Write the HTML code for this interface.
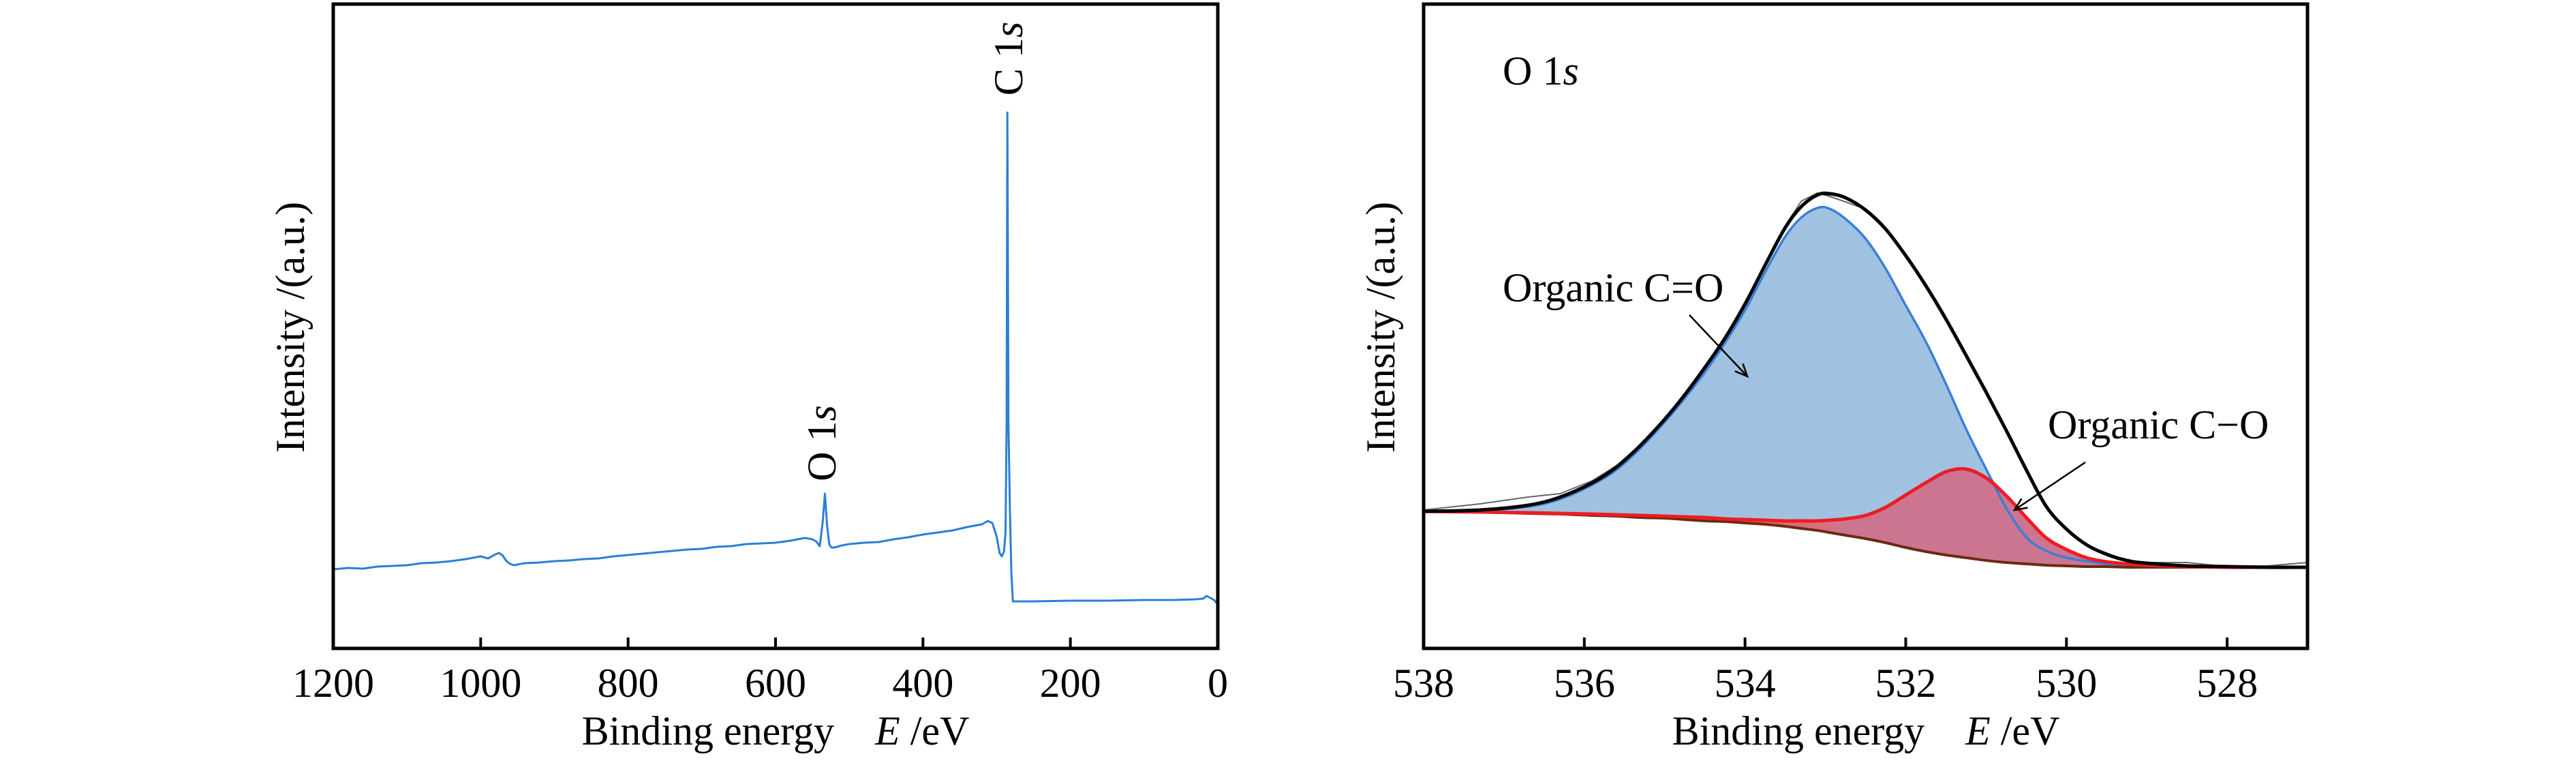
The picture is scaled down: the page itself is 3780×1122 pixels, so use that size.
<!DOCTYPE html>
<html><head><meta charset="utf-8"><style>
html,body{margin:0;padding:0;background:#fff;}
svg{display:block;}
text,tspan{font-family:"Liberation Serif","Times New Roman","DejaVu Serif",serif !important;}
</style></head><body>
<svg id="chart" width="3780" height="1122" viewBox="0 0 3780 1122" xmlns="http://www.w3.org/2000/svg">
<rect x="0" y="0" width="3780" height="1122" fill="#fff"/>
<defs>
<linearGradient id="redgrad" x1="2089" y1="0" x2="3386" y2="0" gradientUnits="userSpaceOnUse">
<stop offset="0" stop-color="#ee5a3c"/><stop offset="0.38" stop-color="#e86a58"/><stop offset="0.48" stop-color="#cc7590"/><stop offset="1" stop-color="#cc7590"/>
</linearGradient>
<marker id="arrowhead" markerWidth="24" markerHeight="24" refX="20" refY="12" orient="auto" markerUnits="userSpaceOnUse" viewBox="0 0 24 24"><path d="M2,4 L20,12 L2,20" fill="none" stroke="#000" stroke-width="2.5"/></marker>
</defs>
<g id="left"></g>
<g id="right"></g>
<g fill="#000">
<text x="1138" y="1092" font-size="60" text-anchor="middle" xml:space="preserve">Binding energy    <tspan font-style="italic">E</tspan> /eV</text>
<text transform="translate(446,480) rotate(-90)" font-size="60" text-anchor="middle">Intensity /(a.u.)</text>
<text transform="translate(1226,650) rotate(-90)" font-size="60" text-anchor="middle">O 1<tspan font-style="italic">s</tspan></text>
<text transform="translate(1500,86) rotate(-90)" font-size="60" text-anchor="middle">C 1<tspan font-style="italic">s</tspan></text>
<text x="2738" y="1092" font-size="60" text-anchor="middle" xml:space="preserve">Binding energy    <tspan font-style="italic">E</tspan> /eV</text>
<text transform="translate(2046,480) rotate(-90)" font-size="60" text-anchor="middle">Intensity /(a.u.)</text>
<text x="2205" y="124" font-size="60">O 1<tspan font-style="italic">s</tspan></text>
<text x="2205" y="442" font-size="60">Organic C=O</text>
<text x="3005" y="643" font-size="60">Organic C−O</text>
<line x1="2479" y1="462" x2="2564" y2="552" stroke="#000" stroke-width="2.5" marker-end="url(#arrowhead)"/>
<line x1="3060" y1="678" x2="2956" y2="748" stroke="#000" stroke-width="2.5" marker-end="url(#arrowhead)"/>
</g>
</svg>
<script>
// ---------- Left: survey spectrum data ----------
const surveyEnergy = [1200,1180,1160,1140,1120,1100,1080,1060,1040,1020,1010,1000,990,980,975,970,965,960,955,940,920,900,880,860,840,820,800,780,760,740,720,700,680,660,640,620,600,580,560,550,545,540,536,533,530,527,524,520,510,500,480,460,440,420,400,380,360,340,320,312,306,300,296,293,290,288,286.5,285.5,284.8,284,282,280,278,270,250,200,150,100,60,30,20,15,10,5,0];
const surveyIntensity = [116,118,117,120,121,122,125,126,128,131,133,135,132,138,140,136,128,124,122,125,126,128,129,131,132,135,137,139,141,143,145,146,149,150,153,154,155,158,162,160,157,150,185,227,180,152,148,148,151,153,155,156,160,163,167,170,173,178,182,187,184,164,140,135,142,170,330,786,600,330,200,110,69,69,69,70,70,71,71,72,73,77,74,71,64];
const surveyTicks = [1200,1000,800,600,400,200,0];
// ---------- Right: O 1s data ----------
const o1sEnergy = [538,537.3,536.7,536.3,535.9,535.6,535.3,535.0,534.75,534.5,534.25,534.0,533.75,533.5,533.3,533.1,532.95,532.75,532.5,532.25,532.0,531.75,531.5,531.25,531.0,530.75,530.5,530.25,530.0,529.75,529.5,529.25,529.0,528.5,528.0,527.5,527];
const envelope = [201,203,210,222,243,266,298,336,372,412,455,505,562,617,648,665,667,661,643,615,576,532,483,430,376,320,262,208,175,152,138,129,125,121,120,119,119];
const component1 = [201,202,208,219,240,262,294,332,367,405,448,496,552,604,632,646,645,630,601,557,503,450,388,322,263,206,163,143,133,128,124,122,120,119,119,119,119];
const component2 = [201,200,199,198,197,196,195,194,193,192,190,189,188,187,187,187,188,190,195,207,225,243,259,263,250,224,192,162,145,133,127,124,122,120,119,119,119];
const shirley = [201,200,198,197,195,194,192,191,189,187,186,184,182,179,176,173,170,166,161,155,148,142,137,133,129,126,124,122,121,120,120,119,119,119,119,119,119];
const rawData = [203,212,222,227,246,268,299,338,373,414,456,507,564,620,656,668,663,655,644,614,577,530,484,429,377,318,263,207,176,151,140,128,126,126,120,121,126];
const o1sTicks = [538,536,534,532,530,528];

const NS = "http://www.w3.org/2000/svg";
function mk(tag, attrs, parent){const e=document.createElementNS(NS,tag);for(const k in attrs)e.setAttribute(k,attrs[k]);parent.appendChild(e);return e;}
function smooth(pts){
  let d="M"+pts[0][0].toFixed(1)+","+pts[0][1].toFixed(1);
  for(let i=0;i<pts.length-1;i++){
    const p0=pts[Math.max(0,i-1)],p1=pts[i],p2=pts[i+1],p3=pts[Math.min(pts.length-1,i+2)];
    const c1=[p1[0]+(p2[0]-p0[0])/6,p1[1]+(p2[1]-p0[1])/6],c2=[p2[0]-(p3[0]-p1[0])/6,p2[1]-(p3[1]-p1[1])/6];
    d+=" C"+c1[0].toFixed(1)+","+c1[1].toFixed(1)+" "+c2[0].toFixed(1)+","+c2[1].toFixed(1)+" "+p2[0].toFixed(1)+","+p2[1].toFixed(1);
  }
  return d;
}
const Y0=951, TOP=6;
function yScale(v){return Y0-v;}

// ---------- Left panel ----------
(function(){
  const g=document.getElementById('left');
  const L=489,R=1787;
  const xs=e=>L+(1200-e)*(R-L)/1200;
  const pts=surveyEnergy.map((e,i)=>[xs(e),yScale(surveyIntensity[i])]);
  let d="M"+pts.map(p=>p[0].toFixed(1)+","+p[1].toFixed(1)).join(" L");
  const line=mk('path',{d:d,fill:'none',stroke:'#2b7fd6','stroke-width':3,'stroke-linejoin':'round'},g);
  
  
  const frame=mk('rect',{x:L,y:TOP,width:R-L,height:Y0-TOP,fill:'none',stroke:'#000','stroke-width':5},g);
  
  
  surveyTicks.forEach(t=>{
    const x=xs(t);
    const tk=mk('line',{x1:x,y1:Y0,x2:x,y2:Y0-16,stroke:'#000','stroke-width':4},g);
    
    
    const tl=mk('text',{x:x,y:1022,'font-size':60,'text-anchor':'middle',fill:'#000'},g);
    tl.textContent=t;
    
    
  });
})();

// ---------- Right panel ----------
(function(){
  const g=document.getElementById('right');
  const L=2089,R=3386;
  const xs=e=>L+(538-e)*(R-L)/11;
  const P=arr=>o1sEnergy.map((e,i)=>[xs(e),yScale(arr[i])]);
  const bgP=P(shirley), c2P=P(component2), c1P=P(component1), envP=P(envelope), rawP=P(rawData);
  const topBlue=o1sEnergy.map((e,i)=>[xs(e),yScale(Math.max(component1[i],component2[i]))]);
  const redFill=smooth(c2P)+" L"+smooth(bgP.slice().reverse()).slice(1)+" Z";
  const rf=mk('path',{d:redFill,fill:'url(#redgrad)',stroke:'none'},g);
  
  
  const blueFill=smooth(topBlue)+" L"+smooth(c2P.slice().reverse()).slice(1)+" Z";
  const bf=mk('path',{d:blueFill,fill:'#a0c2e0',stroke:'none'},g);
  
  
  const raw=mk('path',{d:"M"+rawP.map(p=>p[0].toFixed(1)+","+p[1].toFixed(1)).join(" L"),fill:'none',stroke:'#666','stroke-width':2},g);
  
  
  const bl=mk('path',{d:smooth(c1P),fill:'none',stroke:'#3a7fd6','stroke-width':3.5},g);
  
  
  const bgl=mk('path',{d:smooth(bgP),fill:'none',stroke:'#6b2a12','stroke-width':4},g);
  
  
  const rl=mk('path',{d:smooth(c2P),fill:'none',stroke:'#ee1c24','stroke-width':5},g);
  
  
  const el=mk('path',{d:smooth(envP),fill:'none',stroke:'#000','stroke-width':5},g);
  
  
  const frame=mk('rect',{x:L,y:TOP,width:R-L,height:Y0-TOP,fill:'none',stroke:'#000','stroke-width':5},g);
  
  
  o1sTicks.forEach(t=>{
    const x=xs(t);
    const tk=mk('line',{x1:x,y1:Y0,x2:x,y2:Y0-16,stroke:'#000','stroke-width':4},g);
    
    
    const tl=mk('text',{x:x,y:1022,'font-size':60,'text-anchor':'middle',fill:'#000'},g);
    tl.textContent=t;
    
    
  });
})();
</script>
</body></html>
